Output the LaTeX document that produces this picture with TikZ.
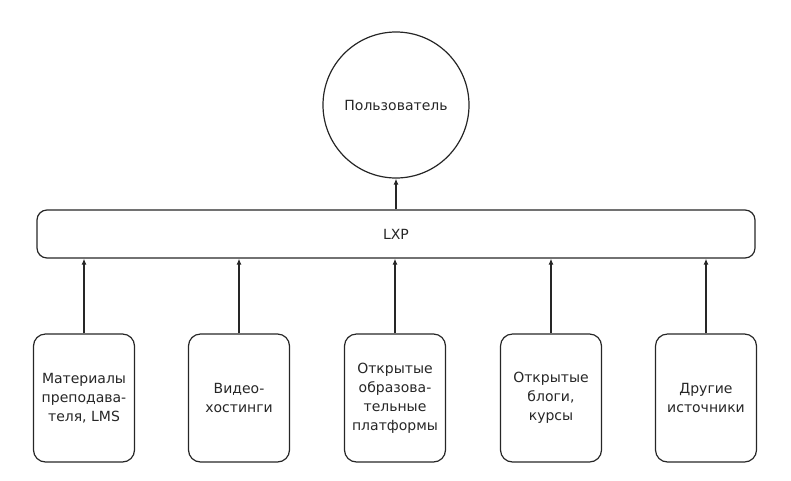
\documentclass[tikz,border=0pt]{standalone}
\usepackage{fontspec}
\setmainfont{DejaVu Sans}
\usetikzlibrary{arrows.meta, positioning}

\begin{document}
\begin{tikzpicture}[
    x=1pt, y=-1pt,
    every node/.style={font=\fontsize{14}{19}\selectfont, text=black!85},
    user/.style={
        circle, draw=black!85, line width=1.2pt, minimum size=146pt
    },
    platform/.style={
        rectangle, rounded corners=10pt, minimum width=718pt,
        minimum height=48pt, draw=black!85, line width=1.2pt
    },
    source/.style={
        rectangle, rounded corners=12pt, minimum width=101pt,
        minimum height=128pt, inner xsep=2pt, align=center,
        draw=black!85, line width=1.2pt
    },
    arrow/.style={-{Latex[length=6pt, width=5pt]}, line width=1.2pt, black!85}
]
    \useasboundingbox (0,0) rectangle (791,480);

    \node[user]     (U)   at (396,105) {Пользователь};
    \node[platform] (LXP) at (396,234) {LXP};

    \node[source] (S1) at (84,398)  {Материалы\\преподава-\\теля, LMS};
    \node[source] (S2) at (239,398) {Видео-\\хостинги};
    \node[source] (S3) at (395,398) {Открытые\\образова-\\тельные\\платформы};
    \node[source] (S4) at (551,398) {Открытые\\блоги,\\курсы};
    \node[source] (S5) at (706,398) {Другие\\источники};

    \draw[arrow] (LXP.north) -- (U.south);
    \foreach \s in {S1, S2, S3, S4, S5} {
        \draw[arrow] (\s.north) -- (\s.north |- LXP.south);
    }
\end{tikzpicture}
\end{document}
